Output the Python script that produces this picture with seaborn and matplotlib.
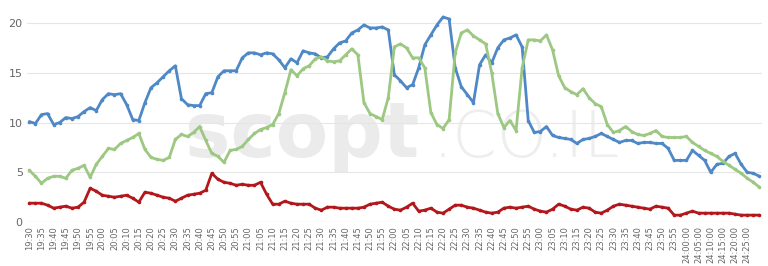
import numpy as np
import pandas as pd
import matplotlib
matplotlib.use("Agg")
import matplotlib.pyplot as plt
import seaborn as sns

# minutes since 19:30, one sample every 2.5 minutes
minutes = [i * 2.5 for i in range(121)]

blue = [10.1, 9.9, 10.8, 10.9, 9.8, 10.0, 10.5, 10.4, 10.6, 11.1,
        11.5, 11.2, 12.3, 12.9, 12.8, 12.9, 11.8, 10.3, 10.2, 12.0,
        13.5, 14.0, 14.6, 15.2, 15.7, 12.4, 11.8, 11.7, 11.7, 12.9,
        13.0, 14.6, 15.2, 15.2, 15.2, 16.5, 17.0, 17.0, 16.8, 17.0,
        16.9, 16.3, 15.5, 16.4, 16.0, 17.2, 17.0, 16.9, 16.5, 16.6,
        17.4, 18.0, 18.2, 19.0, 19.3, 19.8, 19.5, 19.5, 19.6, 19.3,
        14.8, 14.2, 13.5, 13.8, 15.5, 17.8, 18.8, 19.8, 20.6, 20.4,
        15.5, 13.6, 12.8, 12.0, 15.8, 16.8, 16.0, 17.5, 18.3, 18.5,
        18.8, 17.6, 10.2, 9.0, 9.1, 9.6, 8.7, 8.5, 8.4, 8.3,
        7.9, 8.3, 8.4, 8.6, 8.9, 8.6, 8.3, 8.0, 8.2, 8.2,
        7.9, 8.0, 8.0, 7.9, 7.9, 7.4, 6.2, 6.2, 6.2, 7.2,
        6.7, 6.2, 5.0, 5.8, 5.9, 6.6, 6.9, 5.8, 5.0, 4.9, 4.6]

green = [5.2, 4.6, 3.9, 4.4, 4.6, 4.6, 4.4, 5.2, 5.4, 5.7,
         4.5, 5.8, 6.6, 7.4, 7.3, 7.9, 8.2, 8.5, 8.9, 7.3,
         6.5, 6.3, 6.2, 6.5, 8.3, 8.8, 8.6, 9.0, 9.6, 8.2,
         6.9, 6.6, 6.0, 7.2, 7.3, 7.6, 8.3, 8.9, 9.3, 9.5,
         9.8, 10.9, 13.0, 15.3, 14.7, 15.4, 15.7, 16.4, 16.6, 16.2,
         16.1, 16.2, 16.8, 17.4, 16.8, 12.0, 10.9, 10.6, 10.3, 12.5,
         17.6, 17.9, 17.5, 16.5, 16.5, 15.5, 11.0, 9.8, 9.4, 10.3,
         17.0, 19.0, 19.3, 18.7, 18.3, 17.9, 15.0, 10.9, 9.5, 10.2,
         9.2, 15.5, 18.3, 18.3, 18.2, 18.8, 17.3, 14.7, 13.5, 13.1,
         12.8, 13.4, 12.5, 11.9, 11.6, 9.8, 9.0, 9.2, 9.6, 9.1,
         8.8, 8.7, 8.9, 9.2, 8.6, 8.5, 8.5, 8.5, 8.6, 8.0,
         7.6, 7.2, 6.9, 6.6, 6.1, 5.7, 5.3, 4.9, 4.4, 4.0, 3.5]

red = [1.9, 1.9, 1.9, 1.7, 1.4, 1.5, 1.6, 1.4, 1.5, 2.0,
       3.4, 3.1, 2.7, 2.6, 2.5, 2.6, 2.7, 2.4, 2.0, 3.0,
       2.9, 2.7, 2.5, 2.4, 2.1, 2.4, 2.7, 2.8, 2.9, 3.2,
       4.9, 4.3, 4.0, 3.9, 3.7, 3.8, 3.7, 3.7, 4.0, 2.8,
       1.8, 1.8, 2.1, 1.9, 1.8, 1.8, 1.8, 1.4, 1.2, 1.5,
       1.5, 1.4, 1.4, 1.4, 1.4, 1.5, 1.8, 1.9, 2.0, 1.6,
       1.3, 1.2, 1.5, 1.9, 1.1, 1.2, 1.4, 1.0, 0.9, 1.3,
       1.7, 1.7, 1.5, 1.4, 1.2, 1.0, 0.9, 1.0, 1.4, 1.5,
       1.4, 1.5, 1.6, 1.3, 1.1, 1.0, 1.3, 1.8, 1.6, 1.3,
       1.2, 1.5, 1.4, 1.0, 0.9, 1.2, 1.6, 1.8, 1.7, 1.6,
       1.5, 1.4, 1.3, 1.6, 1.5, 1.4, 0.7, 0.7, 0.9, 1.1,
       0.9, 0.9, 0.9, 0.9, 0.9, 0.9, 0.8, 0.7, 0.7, 0.7, 0.7]

tick_minutes = list(range(0, 300, 5))
tick_labels = ([f"{19 + (30 + m) // 60}:{(30 + m) % 60:02d}" for m in range(0, 270, 5)]
               + [f"24:{m:02d}:00" for m in range(0, 30, 5)])

series_names = ["blue", "green", "red"]
colors = {"blue": "#4f88c6", "green": "#9cc882", "red": "#b3171b"}

df = pd.concat([
    pd.DataFrame({"minute": minutes, "value": blue, "series": "blue"}),
    pd.DataFrame({"minute": minutes, "value": green, "series": "green"}),
    pd.DataFrame({"minute": minutes, "value": red, "series": "red"}),
])

sns.set_theme(style="white")
plt.rcParams["font.family"] = ["DejaVu Sans"]

fig = plt.figure(figsize=(7.68, 2.66), dpi=100)
ax = fig.add_axes([0.035, 0.165, 0.957, 0.816])

# watermark
ax.text(0.215, 0.30, "scopt", transform=ax.transAxes, fontsize=55, fontweight="bold",
        color="#ebebeb", zorder=0, ha="left", va="baseline")
ax.text(0.552, 0.30, ".CO.IL", transform=ax.transAxes, fontsize=46, fontweight="light",
        color="#eeeeee", zorder=0, ha="left", va="baseline")

for yv in [5, 10, 15, 20]:
    ax.axhline(yv, color="#e6e6e6", lw=0.8, zorder=1)
ax.axhline(0, color="#dcdcdc", lw=0.9, zorder=1)

sns.lineplot(data=df, x="minute", y="value", hue="series", palette=colors,
             hue_order=series_names, linewidth=2.0, marker="o", markersize=2.6,
             markeredgewidth=0, legend=False, ax=ax, zorder=3)

ax.set_xlim(-1, 301)
ax.set_ylim(0, 21.8)
ax.set_xticks(tick_minutes)
ax.set_xticklabels(tick_labels, rotation=90, fontsize=6, color="#666666")
ax.set_yticks([0, 5, 10, 15, 20])
ax.set_yticklabels(["0", "5", "10", "15", "20"], fontsize=8, color="#666666")
ax.tick_params(axis="both", length=0, pad=3)
ax.set_xlabel("")
ax.set_ylabel("")
for s in ax.spines.values():
    s.set_visible(False)

fig.savefig("out.png", dpi=100)
